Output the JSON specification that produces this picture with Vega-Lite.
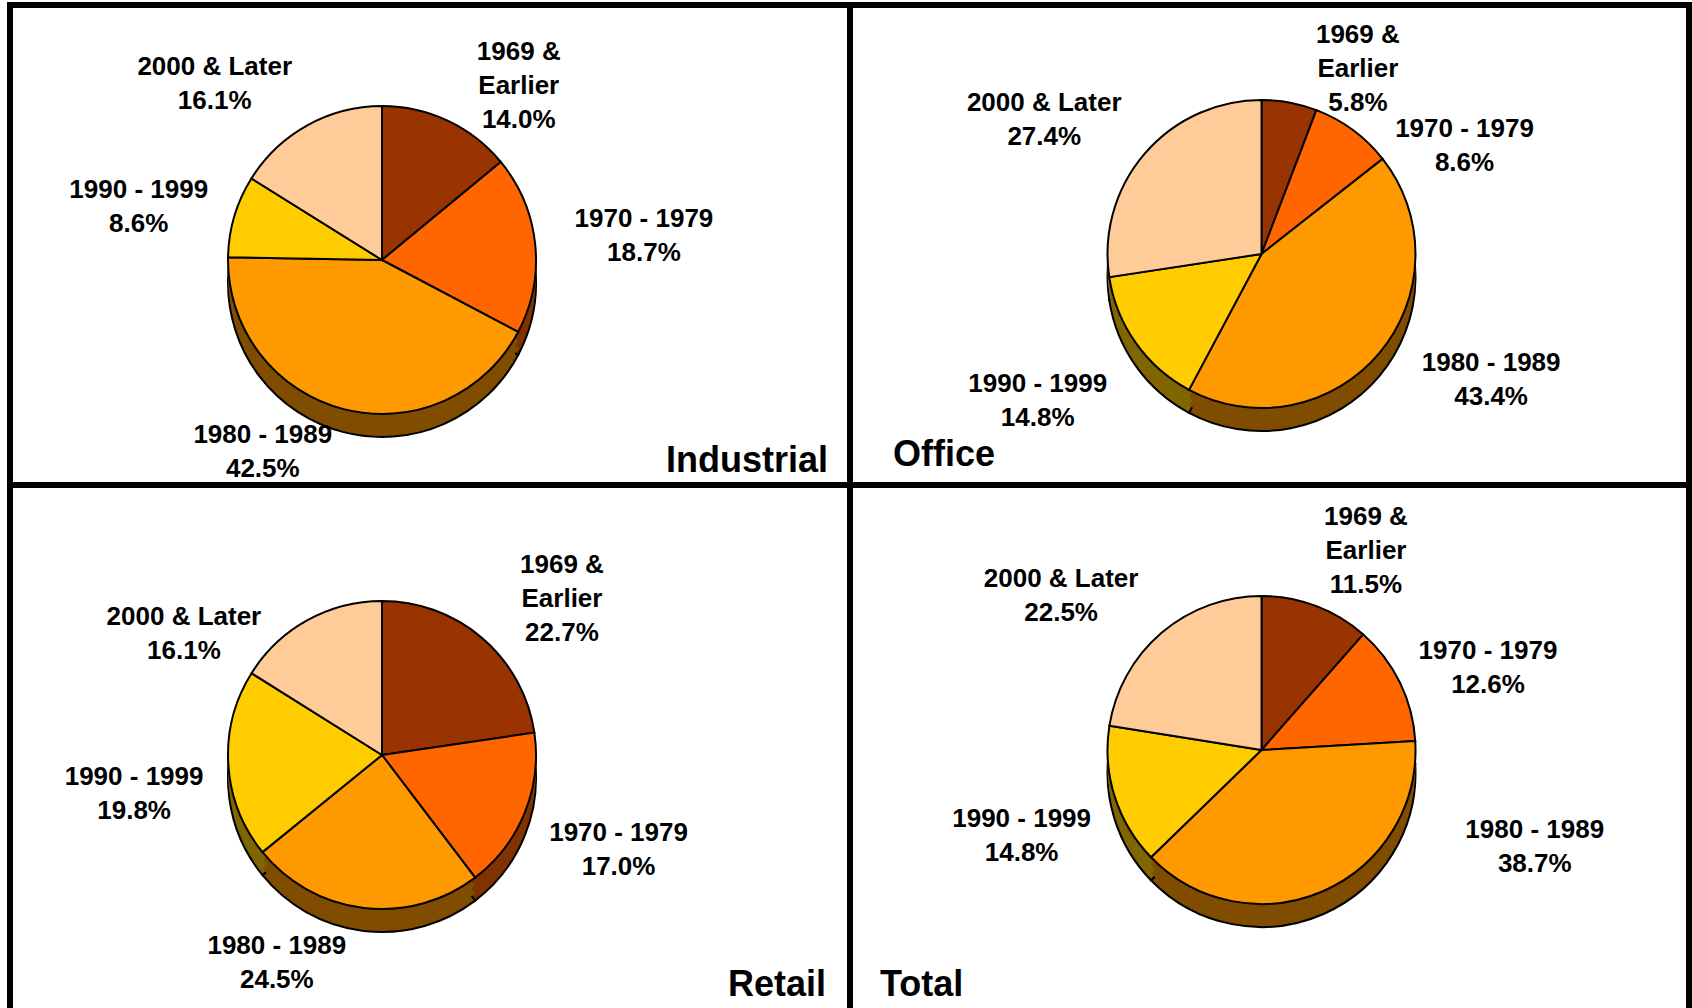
{
  "$schema": "https://vega.github.io/schema/vega-lite/v6.json",
  "autosize": {"type": "pad"},
  "padding": {"left": 7, "top": 2, "right": 0, "bottom": 0},
  "background": "white",
  "columns": 2,
  "spacing": 0,
  "bounds": "flush",
  "datasets": {
    "pies": [
      {"panel": "Industrial", "period": "1969 & Earlier", "value": 14.0, "label": "1969 &\nEarlier\n14.0%"},
      {"panel": "Industrial", "period": "1970 - 1979", "value": 18.7, "label": "1970 - 1979\n18.7%"},
      {"panel": "Industrial", "period": "1980 - 1989", "value": 42.5, "label": "1980 - 1989\n42.5%"},
      {"panel": "Industrial", "period": "1990 - 1999", "value": 8.6, "label": "1990 - 1999\n8.6%"},
      {"panel": "Industrial", "period": "2000 & Later", "value": 16.1, "label": "2000 & Later\n16.1%"},
      {"panel": "Office", "period": "1969 & Earlier", "value": 5.8, "label": "1969 &\nEarlier\n5.8%"},
      {"panel": "Office", "period": "1970 - 1979", "value": 8.6, "label": "1970 - 1979\n8.6%"},
      {"panel": "Office", "period": "1980 - 1989", "value": 43.4, "label": "1980 - 1989\n43.4%"},
      {"panel": "Office", "period": "1990 - 1999", "value": 14.8, "label": "1990 - 1999\n14.8%"},
      {"panel": "Office", "period": "2000 & Later", "value": 27.4, "label": "2000 & Later\n27.4%"},
      {"panel": "Retail", "period": "1969 & Earlier", "value": 22.7, "label": "1969 &\nEarlier\n22.7%"},
      {"panel": "Retail", "period": "1970 - 1979", "value": 17.0, "label": "1970 - 1979\n17.0%"},
      {"panel": "Retail", "period": "1980 - 1989", "value": 24.5, "label": "1980 - 1989\n24.5%"},
      {"panel": "Retail", "period": "1990 - 1999", "value": 19.8, "label": "1990 - 1999\n19.8%"},
      {"panel": "Retail", "period": "2000 & Later", "value": 16.1, "label": "2000 & Later\n16.1%"},
      {"panel": "Total", "period": "1969 & Earlier", "value": 11.5, "label": "1969 &\nEarlier\n11.5%"},
      {"panel": "Total", "period": "1970 - 1979", "value": 12.6, "label": "1970 - 1979\n12.6%"},
      {"panel": "Total", "period": "1980 - 1989", "value": 38.7, "label": "1980 - 1989\n38.7%"},
      {"panel": "Total", "period": "1990 - 1999", "value": 14.8, "label": "1990 - 1999\n14.8%"},
      {"panel": "Total", "period": "2000 & Later", "value": 22.5, "label": "2000 & Later\n22.5%"}
    ]
  },
  "concat": [
    {
      "width": 840, "height": 480,
      "view": {"stroke": "black", "strokeWidth": 6},
      "data": {"name": "pies"},
      "transform": [{"filter": "datum.panel === 'Industrial'"}],
      "title": {"text": "Industrial", "orient": "bottom", "anchor": "end", "frame": "group", "offset": -13, "dx": -22, "baseline": "alphabetic", "fontSize": 36, "font": "Liberation Sans", "fontWeight": "bold", "color": "black"},
      "encoding": {
        "theta": {"field": "value", "type": "quantitative", "stack": true},
        "order": {"field": "period", "sort": "ascending"}
      },
      "resolve": {"scale": {"color": "independent"}},
      "layer": [
        {"mark": {"type": "arc", "clip": true, "outerRadius": 154, "xOffset": -48, "yOffset": 38, "stroke": "black", "strokeWidth": 2}, "encoding": {"color": {"field": "period", "type": "nominal", "legend": null, "scale": {"range": ["#4D1A00", "#803300", "#804D00", "#806600", "#806633"]}}}},
        {"mark": {"type": "arc", "clip": true, "outerRadius": 154, "xOffset": -48, "yOffset": 31}, "encoding": {"color": {"field": "period", "type": "nominal", "legend": null, "scale": {"range": ["#4D1A00", "#803300", "#804D00", "#806600", "#806633"]}}}},
        {"mark": {"type": "arc", "clip": true, "outerRadius": 154, "xOffset": -48, "yOffset": 23}, "encoding": {"color": {"field": "period", "type": "nominal", "legend": null, "scale": {"range": ["#4D1A00", "#803300", "#804D00", "#806600", "#806633"]}}}},
        {"mark": {"type": "arc", "clip": true, "outerRadius": 154, "xOffset": -48, "yOffset": 15, "stroke": "black", "strokeWidth": 2}, "encoding": {"color": {"field": "period", "type": "nominal", "legend": null, "scale": {"range": ["#993300", "#FF6600", "#FF9900", "#FFCC00", "#FFCC99"]}}}},
        {"mark": {"type": "text", "clip": true, "radius": 221, "thetaOffset": 0.227, "xOffset": -48, "yOffset": 15, "dy": -34}, "encoding": {"text": {"condition": {"test": "datum.period === '1969 & Earlier'", "field": "label", "type": "nominal"}, "value": ""}}},
        {"mark": {"type": "text", "clip": true, "radius": 263, "thetaOffset": 0.012, "xOffset": -48, "yOffset": 15, "dy": -17}, "encoding": {"text": {"condition": {"test": "datum.period === '1970 - 1979'", "field": "label", "type": "nominal"}, "value": ""}}},
        {"mark": {"type": "text", "clip": true, "radius": 226, "thetaOffset": 0.304, "xOffset": -48, "yOffset": 15, "dy": -17}, "encoding": {"text": {"condition": {"test": "datum.period === '1980 - 1989'", "field": "label", "type": "nominal"}, "value": ""}}},
        {"mark": {"type": "text", "clip": true, "radius": 249, "thetaOffset": -0.073, "xOffset": -48, "yOffset": 15, "dy": -17}, "encoding": {"text": {"condition": {"test": "datum.period === '1990 - 1999'", "field": "label", "type": "nominal"}, "value": ""}}},
        {"mark": {"type": "text", "clip": true, "radius": 243, "thetaOffset": -0.253, "xOffset": -48, "yOffset": 15, "dy": -17}, "encoding": {"text": {"condition": {"test": "datum.period === '2000 & Later'", "field": "label", "type": "nominal"}, "value": ""}}}
      ]
    },
    {
      "width": 839, "height": 480,
      "view": {"stroke": "black", "strokeWidth": 6},
      "data": {"name": "pies"},
      "transform": [{"filter": "datum.panel === 'Office'"}],
      "title": {"text": "Office", "orient": "bottom", "anchor": "start", "frame": "group", "offset": -19, "dx": 43, "baseline": "alphabetic", "fontSize": 36, "font": "Liberation Sans", "fontWeight": "bold", "color": "black"},
      "encoding": {
        "theta": {"field": "value", "type": "quantitative", "stack": true},
        "order": {"field": "period", "sort": "ascending"}
      },
      "resolve": {"scale": {"color": "independent"}},
      "layer": [
        {"mark": {"type": "arc", "clip": true, "outerRadius": 154, "xOffset": -8, "yOffset": 32, "stroke": "black", "strokeWidth": 2}, "encoding": {"color": {"field": "period", "type": "nominal", "legend": null, "scale": {"range": ["#4D1A00", "#803300", "#804D00", "#806600", "#806633"]}}}},
        {"mark": {"type": "arc", "clip": true, "outerRadius": 154, "xOffset": -8, "yOffset": 25}, "encoding": {"color": {"field": "period", "type": "nominal", "legend": null, "scale": {"range": ["#4D1A00", "#803300", "#804D00", "#806600", "#806633"]}}}},
        {"mark": {"type": "arc", "clip": true, "outerRadius": 154, "xOffset": -8, "yOffset": 17}, "encoding": {"color": {"field": "period", "type": "nominal", "legend": null, "scale": {"range": ["#4D1A00", "#803300", "#804D00", "#806600", "#806633"]}}}},
        {"mark": {"type": "arc", "clip": true, "outerRadius": 154, "xOffset": -8, "yOffset": 9, "stroke": "black", "strokeWidth": 2}, "encoding": {"color": {"field": "period", "type": "nominal", "legend": null, "scale": {"range": ["#993300", "#FF6600", "#FF9900", "#FFCC00", "#FFCC99"]}}}},
        {"mark": {"type": "text", "clip": true, "radius": 209, "thetaOffset": 0.297, "xOffset": -8, "yOffset": 9, "dy": -34}, "encoding": {"text": {"condition": {"test": "datum.period === '1969 & Earlier'", "field": "label", "type": "nominal"}, "value": ""}}},
        {"mark": {"type": "text", "clip": true, "radius": 230, "thetaOffset": 0.447, "xOffset": -8, "yOffset": 9, "dy": -17}, "encoding": {"text": {"condition": {"test": "datum.period === '1970 - 1979'", "field": "label", "type": "nominal"}, "value": ""}}},
        {"mark": {"type": "text", "clip": true, "radius": 262, "thetaOffset": -0.195, "xOffset": -8, "yOffset": 9, "dy": -17}, "encoding": {"text": {"condition": {"test": "datum.period === '1980 - 1989'", "field": "label", "type": "nominal"}, "value": ""}}},
        {"mark": {"type": "text", "clip": true, "radius": 268, "thetaOffset": 0.033, "xOffset": -8, "yOffset": 9, "dy": -17}, "encoding": {"text": {"condition": {"test": "datum.period === '1990 - 1999'", "field": "label", "type": "nominal"}, "value": ""}}},
        {"mark": {"type": "text", "clip": true, "radius": 255, "thetaOffset": -0.159, "xOffset": -8, "yOffset": 9, "dy": -17}, "encoding": {"text": {"condition": {"test": "datum.period === '2000 & Later'", "field": "label", "type": "nominal"}, "value": ""}}}
      ]
    },
    {
      "width": 840, "height": 528,
      "view": {"stroke": "black", "strokeWidth": 6},
      "data": {"name": "pies"},
      "transform": [{"filter": "datum.panel === 'Retail'"}],
      "title": {"text": "Retail", "orient": "bottom", "anchor": "end", "frame": "group", "offset": -17, "dx": -24, "baseline": "alphabetic", "fontSize": 36, "font": "Liberation Sans", "fontWeight": "bold", "color": "black"},
      "encoding": {
        "theta": {"field": "value", "type": "quantitative", "stack": true},
        "order": {"field": "period", "sort": "ascending"}
      },
      "resolve": {"scale": {"color": "independent"}},
      "layer": [
        {"mark": {"type": "arc", "clip": true, "outerRadius": 154, "xOffset": -48, "yOffset": 29, "stroke": "black", "strokeWidth": 2}, "encoding": {"color": {"field": "period", "type": "nominal", "legend": null, "scale": {"range": ["#4D1A00", "#803300", "#804D00", "#806600", "#806633"]}}}},
        {"mark": {"type": "arc", "clip": true, "outerRadius": 154, "xOffset": -48, "yOffset": 22}, "encoding": {"color": {"field": "period", "type": "nominal", "legend": null, "scale": {"range": ["#4D1A00", "#803300", "#804D00", "#806600", "#806633"]}}}},
        {"mark": {"type": "arc", "clip": true, "outerRadius": 154, "xOffset": -48, "yOffset": 14}, "encoding": {"color": {"field": "period", "type": "nominal", "legend": null, "scale": {"range": ["#4D1A00", "#803300", "#804D00", "#806600", "#806633"]}}}},
        {"mark": {"type": "arc", "clip": true, "outerRadius": 154, "xOffset": -48, "yOffset": 6, "stroke": "black", "strokeWidth": 2}, "encoding": {"color": {"field": "period", "type": "nominal", "legend": null, "scale": {"range": ["#993300", "#FF6600", "#FF9900", "#FFCC00", "#FFCC99"]}}}},
        {"mark": {"type": "text", "clip": true, "radius": 238, "thetaOffset": 0.145, "xOffset": -48, "yOffset": 6, "dy": -34}, "encoding": {"text": {"condition": {"test": "datum.period === '1969 & Earlier'", "field": "label", "type": "nominal"}, "value": ""}}},
        {"mark": {"type": "text", "clip": true, "radius": 255, "thetaOffset": -0.005, "xOffset": -48, "yOffset": 6, "dy": -17}, "encoding": {"text": {"condition": {"test": "datum.period === '1970 - 1979'", "field": "label", "type": "nominal"}, "value": ""}}},
        {"mark": {"type": "text", "clip": true, "radius": 233, "thetaOffset": 0.349, "xOffset": -48, "yOffset": 6, "dy": -17}, "encoding": {"text": {"condition": {"test": "datum.period === '1980 - 1989'", "field": "label", "type": "nominal"}, "value": ""}}},
        {"mark": {"type": "text", "clip": true, "radius": 251, "thetaOffset": -0.096, "xOffset": -48, "yOffset": 6, "dy": -17}, "encoding": {"text": {"condition": {"test": "datum.period === '1990 - 1999'", "field": "label", "type": "nominal"}, "value": ""}}},
        {"mark": {"type": "text", "clip": true, "radius": 232, "thetaOffset": -0.518, "xOffset": -48, "yOffset": 6, "dy": -17}, "encoding": {"text": {"condition": {"test": "datum.period === '2000 & Later'", "field": "label", "type": "nominal"}, "value": ""}}}
      ]
    },
    {
      "width": 839, "height": 528,
      "view": {"stroke": "black", "strokeWidth": 6},
      "data": {"name": "pies"},
      "transform": [{"filter": "datum.panel === 'Total'"}],
      "title": {"text": "Total", "orient": "bottom", "anchor": "start", "frame": "group", "offset": -17, "dx": 30, "baseline": "alphabetic", "fontSize": 36, "font": "Liberation Sans", "fontWeight": "bold", "color": "black"},
      "encoding": {
        "theta": {"field": "value", "type": "quantitative", "stack": true},
        "order": {"field": "period", "sort": "ascending"}
      },
      "resolve": {"scale": {"color": "independent"}},
      "layer": [
        {"mark": {"type": "arc", "clip": true, "outerRadius": 154, "xOffset": -8, "yOffset": 24, "stroke": "black", "strokeWidth": 2}, "encoding": {"color": {"field": "period", "type": "nominal", "legend": null, "scale": {"range": ["#4D1A00", "#803300", "#804D00", "#806600", "#806633"]}}}},
        {"mark": {"type": "arc", "clip": true, "outerRadius": 154, "xOffset": -8, "yOffset": 17}, "encoding": {"color": {"field": "period", "type": "nominal", "legend": null, "scale": {"range": ["#4D1A00", "#803300", "#804D00", "#806600", "#806633"]}}}},
        {"mark": {"type": "arc", "clip": true, "outerRadius": 154, "xOffset": -8, "yOffset": 9}, "encoding": {"color": {"field": "period", "type": "nominal", "legend": null, "scale": {"range": ["#4D1A00", "#803300", "#804D00", "#806600", "#806633"]}}}},
        {"mark": {"type": "arc", "clip": true, "outerRadius": 154, "xOffset": -8, "yOffset": 1, "stroke": "black", "strokeWidth": 2}, "encoding": {"color": {"field": "period", "type": "nominal", "legend": null, "scale": {"range": ["#993300", "#FF6600", "#FF9900", "#FFCC00", "#FFCC99"]}}}},
        {"mark": {"type": "text", "clip": true, "radius": 225, "thetaOffset": 0.122, "xOffset": -8, "yOffset": 1, "dy": -34}, "encoding": {"text": {"condition": {"test": "datum.period === '1969 & Earlier'", "field": "label", "type": "nominal"}, "value": ""}}},
        {"mark": {"type": "text", "clip": true, "radius": 241, "thetaOffset": 0.105, "xOffset": -8, "yOffset": 1, "dy": -17}, "encoding": {"text": {"condition": {"test": "datum.period === '1970 - 1979'", "field": "label", "type": "nominal"}, "value": ""}}},
        {"mark": {"type": "text", "clip": true, "radius": 290, "thetaOffset": -0.815, "xOffset": -8, "yOffset": 1, "dy": -17}, "encoding": {"text": {"condition": {"test": "datum.period === '1980 - 1989'", "field": "label", "type": "nominal"}, "value": ""}}},
        {"mark": {"type": "text", "clip": true, "radius": 255, "thetaOffset": -0.040, "xOffset": -8, "yOffset": 1, "dy": -17}, "encoding": {"text": {"condition": {"test": "datum.period === '1990 - 1999'", "field": "label", "type": "nominal"}, "value": ""}}},
        {"mark": {"type": "text", "clip": true, "radius": 253, "thetaOffset": -0.208, "xOffset": -8, "yOffset": 1, "dy": -17}, "encoding": {"text": {"condition": {"test": "datum.period === '2000 & Later'", "field": "label", "type": "nominal"}, "value": ""}}}
      ]
    }
  ],
  "config": {
    "font": "Liberation Sans",
    "text": {"font": "Liberation Sans", "fontWeight": "bold", "fontSize": 26, "lineBreak": "\n", "lineHeight": 34, "align": "center", "baseline": "middle", "color": "black"}
  }
}
